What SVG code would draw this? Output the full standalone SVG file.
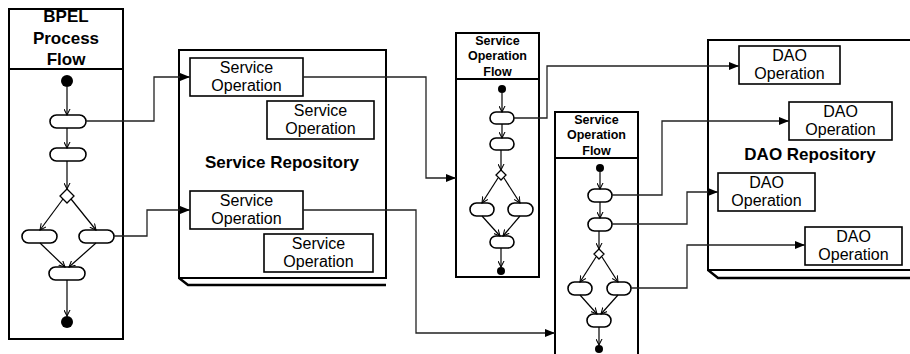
<svg xmlns="http://www.w3.org/2000/svg" width="910" height="354" viewBox="0 0 910 354">
<defs>
<marker id="big" viewBox="0 0 10 8" refX="10" refY="4" markerWidth="10" markerHeight="8" markerUnits="userSpaceOnUse" orient="auto">
<path d="M0,0 L10,4 L0,8 Z" fill="#000"/>
</marker>
<marker id="small" viewBox="0 0 8 8" refX="7" refY="4" markerWidth="7" markerHeight="7" markerUnits="userSpaceOnUse" orient="auto">
<path d="M0,0.5 L7,4 L0,7.5" fill="none" stroke="#000" stroke-width="1.2"/>
</marker>
</defs>
<style>
.frame{fill:#fff;stroke:#000;stroke-width:2}
.op{fill:#fff;stroke:#000;stroke-width:1.6}
.act{fill:#fff;stroke:#000;stroke-width:1.6}
.dec{fill:#fff;stroke:#000;stroke-width:1.3}
.conn{fill:none;stroke:#222;stroke-width:1.3;marker-end:url(#big)}
.flow{fill:none;stroke:#000;stroke-width:1.2;marker-end:url(#small)}
.t{font-family:"Liberation Sans",Arial,sans-serif;fill:#000;text-anchor:middle}
.op-t{font-size:16px}
.title{font-size:17px;font-weight:bold}
.hdr{font-size:12.5px;font-weight:bold}
.depth{fill:none;stroke:#000;stroke-width:2.4}
</style>

<!-- BPEL Process Flow -->
<g id="bpel">
<rect class="frame" x="9" y="9" width="114" height="330"/>
<line x1="9" y1="69" x2="123" y2="69" stroke="#000" stroke-width="2"/>
<text class="t title" x="66" y="22">BPEL</text>
<text class="t title" x="66" y="44">Process</text>
<text class="t title" x="66" y="65">Flow</text>
<circle cx="67" cy="81" r="6" fill="#000"/>
<rect class="act" x="50" y="115" width="36" height="13" rx="6.5"/>
<rect class="act" x="50" y="148" width="36" height="13" rx="6.5"/>
<path class="dec" d="M67,189 L74,196 L67,203 L60,196 Z"/>
<rect class="act" x="22" y="230" width="35" height="13" rx="6.5"/>
<rect class="act" x="79" y="230" width="35" height="13" rx="6.5"/>
<rect class="act" x="49" y="267" width="36" height="13" rx="6.5"/>
<circle cx="67" cy="322" r="6" fill="#000"/>
<path class="flow" d="M67,87 V115"/>
<path class="flow" d="M67,128 V148"/>
<path class="flow" d="M67,161 V189"/>
<path class="flow" d="M63,199 L40,230"/>
<path class="flow" d="M71,199 L96,230"/>
<path class="flow" d="M40,243 L65,267"/>
<path class="flow" d="M96,243 L69,267"/>
<path class="flow" d="M67,280 V316"/>
</g>

<!-- Service Repository -->
<g id="service-repository">
<path class="depth" d="M179,278 L188,285 H386"/>
<rect class="frame" x="179" y="50" width="207" height="228"/>
<text class="t title" x="282" y="168">Service Repository</text>
</g>
<g id="so1">
<rect class="op" x="190" y="58" width="113" height="38"/>
<text class="t op-t" x="246.5" y="73">Service</text>
<text class="t op-t" x="246.5" y="91">Operation</text>
</g>
<g id="so2">
<rect class="op" x="267" y="101" width="107" height="38"/>
<text class="t op-t" x="320.5" y="116">Service</text>
<text class="t op-t" x="320.5" y="134">Operation</text>
</g>
<g id="so3">
<rect class="op" x="190" y="191" width="113" height="38"/>
<text class="t op-t" x="246.5" y="206">Service</text>
<text class="t op-t" x="246.5" y="224">Operation</text>
</g>
<g id="so4">
<rect class="op" x="264" y="234" width="109" height="38"/>
<text class="t op-t" x="318.5" y="249">Service</text>
<text class="t op-t" x="318.5" y="267">Operation</text>
</g>

<!-- Service Operation Flow 1 -->
<g id="sof1">
<rect class="frame" x="456" y="33" width="83" height="244"/>
<line x1="456" y1="79" x2="539" y2="79" stroke="#000" stroke-width="2"/>
<text class="t hdr" x="497.5" y="45">Service</text>
<text class="t hdr" x="497.5" y="60">Operation</text>
<text class="t hdr" x="497.5" y="76">Flow</text>
<circle cx="502" cy="89" r="4" fill="#000"/>
<rect class="act" x="490" y="112" width="24" height="12" rx="6"/>
<rect class="act" x="490" y="138" width="24" height="12" rx="6"/>
<path class="dec" d="M501,170 L506,175 L501,180 L496,175 Z"/>
<rect class="act" x="470" y="203" width="24" height="13" rx="6.5"/>
<rect class="act" x="508" y="203" width="25" height="13" rx="6.5"/>
<rect class="act" x="490" y="236" width="24" height="12" rx="6"/>
<circle cx="501" cy="271" r="4" fill="#000"/>
<path class="flow" d="M502,93 V112"/>
<path class="flow" d="M502,124 V138"/>
<path class="flow" d="M501,150 V170"/>
<path class="flow" d="M498,178 L482,203"/>
<path class="flow" d="M504,178 L520,203"/>
<path class="flow" d="M482,216 L500,236"/>
<path class="flow" d="M520,216 L503,236"/>
<path class="flow" d="M501,248 V267"/>
</g>

<!-- Service Operation Flow 2 -->
<g id="sof2">
<rect class="frame" x="555" y="112" width="83" height="250"/>
<line x1="555" y1="158" x2="638" y2="158" stroke="#000" stroke-width="2"/>
<text class="t hdr" x="596.5" y="124">Service</text>
<text class="t hdr" x="596.5" y="139">Operation</text>
<text class="t hdr" x="596.5" y="155">Flow</text>
<circle cx="600" cy="168" r="4" fill="#000"/>
<rect class="act" x="588" y="189" width="24" height="13" rx="6.5"/>
<rect class="act" x="588" y="218" width="24" height="13" rx="6.5"/>
<path class="dec" d="M599,249 L604,254 L599,259 L594,254 Z"/>
<rect class="act" x="568" y="282" width="24" height="13" rx="6.5"/>
<rect class="act" x="607" y="282" width="24" height="13" rx="6.5"/>
<rect class="act" x="587" y="314" width="24" height="13" rx="6.5"/>
<circle cx="599" cy="349" r="4" fill="#000"/>
<path class="flow" d="M600,172 V189"/>
<path class="flow" d="M600,202 V218"/>
<path class="flow" d="M599,231 V249"/>
<path class="flow" d="M596,257 L580,282"/>
<path class="flow" d="M602,257 L618,282"/>
<path class="flow" d="M580,295 L597,314"/>
<path class="flow" d="M618,295 L601,314"/>
<path class="flow" d="M599,327 V345"/>
</g>

<!-- DAO Repository -->
<g id="dao-repository">
<path class="depth" d="M708,270 L718,278 H912"/>
<rect class="frame" x="708" y="40" width="210" height="230"/>
<text class="t title" x="810" y="160">DAO Repository</text>
</g>
<g id="dao1">
<rect class="op" x="739" y="46" width="101" height="38"/>
<text class="t op-t" x="789.5" y="61">DAO</text>
<text class="t op-t" x="789.5" y="79">Operation</text>
</g>
<g id="dao2">
<rect class="op" x="789" y="102" width="103" height="38"/>
<text class="t op-t" x="840.5" y="117">DAO</text>
<text class="t op-t" x="840.5" y="135">Operation</text>
</g>
<g id="dao3">
<rect class="op" x="718" y="173" width="97" height="38"/>
<text class="t op-t" x="766.5" y="188">DAO</text>
<text class="t op-t" x="766.5" y="206">Operation</text>
</g>
<g id="dao4">
<rect class="op" x="805" y="227" width="97" height="38"/>
<text class="t op-t" x="853.5" y="242">DAO</text>
<text class="t op-t" x="853.5" y="260">Operation</text>
</g>

<!-- Connectors -->
<g id="connectors">
<path class="conn" d="M86,121 H154 V77 H190"/>
<path class="conn" d="M114,236 H147 V210 H190"/>
<path class="conn" d="M303,77 H426 V178 H456"/>
<path class="conn" d="M303,210 H416 V333 H555"/>
<path class="conn" d="M514,118 H547 V66 H739"/>
<path class="conn" d="M612,195 H662 V121 H789"/>
<path class="conn" d="M612,224 H687 V192 H718"/>
<path class="conn" d="M631,288 H687 V245 H805"/>
</g>
</svg>
